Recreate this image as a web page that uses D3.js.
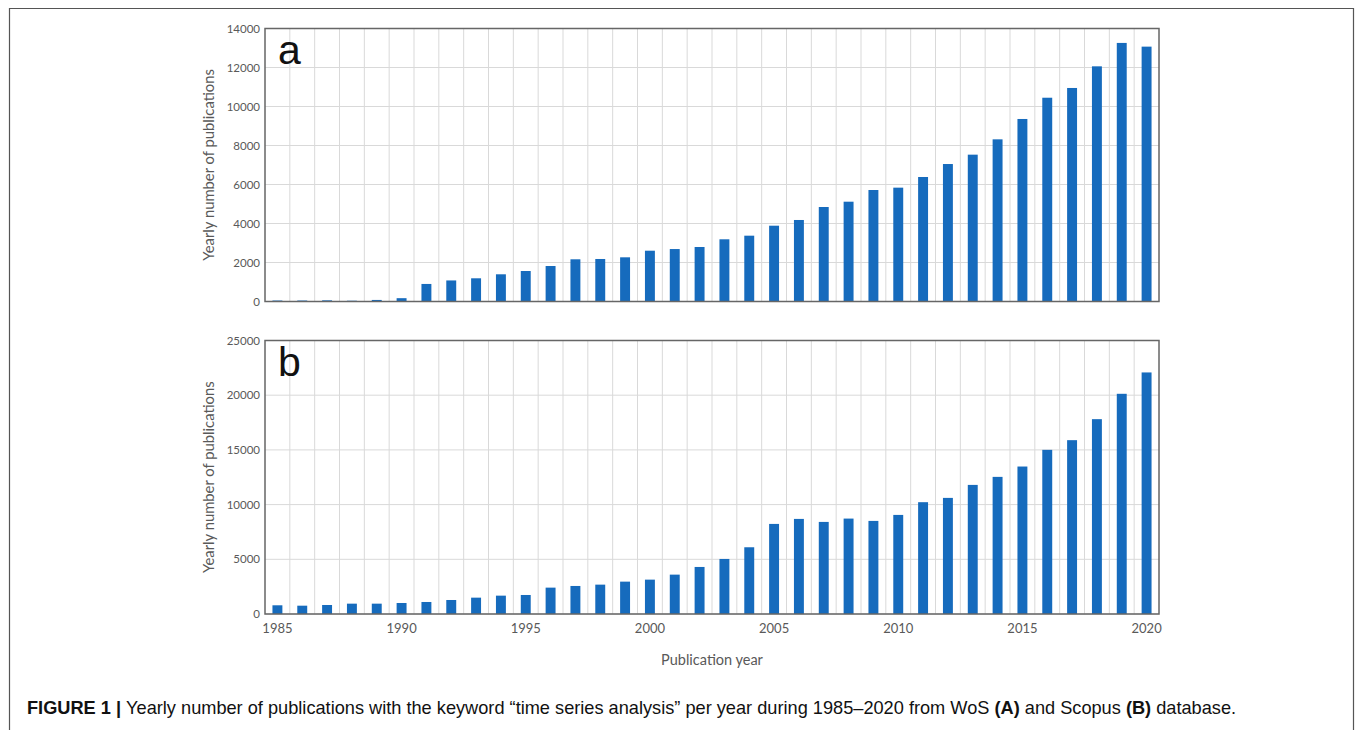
<!DOCTYPE html>
<html>
<head>
<meta charset="utf-8">
<script src="https://cdn.jsdelivr.net/npm/d3@7"></script>
<style>
  html, body { margin: 0; padding: 0; background: #fff; }
  svg { display: block; }
</style>
</head>
<body>
<svg id="chart" width="1355" height="730"></svg>
<script>
const years = d3.range(1985, 2021);
const wosValues = [50, 50, 60, 40, 80, 170, 900, 1080, 1190, 1395, 1564, 1820, 2164, 2180, 2266, 2605, 2690, 2795, 3190, 3375, 3887, 4180, 4846, 5118, 5718, 5838, 6385, 7050, 7530, 8316, 9360, 10450, 10950, 12060, 13260, 13070];
const scopusValues = [796, 760, 823, 945, 945, 1006, 1098, 1280, 1494, 1677, 1738, 2410, 2562, 2684, 2958, 3141, 3599, 4300, 5032, 6100, 8234, 8692, 8417, 8722, 8509, 9057, 10220, 10613, 11800, 12534, 13480, 15004, 15890, 17810, 20128, 22080];
const wosTicks = [0, 2000, 4000, 6000, 8000, 10000, 12000, 14000];
const scopusTicks = [0, 5000, 10000, 15000, 20000, 25000];
const xTickYears = [1985, 1990, 1995, 2000, 2005, 2010, 2015, 2020];

const svg = d3.select("#chart");
const barColor = "#166bbd";
const gridColor = "#d9d9d9";
const axisColor = "#666";
const textColor = "#595959";
const labelFont = "Lato, 'Open Sans', sans-serif";

// Outer frame
svg.append("path")
  .attr("d", "M9.5,730 V8.5 H1353.5 V730")
  .attr("fill", "none").attr("stroke", "#555").attr("stroke-width", 1.2);

const left = 265, right = 1159;
const x = d3.scaleBand().domain(years).range([left, right]).paddingInner(0.6).paddingOuter(0.3);
const xGrid = d3.scaleBand().domain(years).range([left, right]).padding(0);

function panel(values, ticks, top, bottom, letter, showX) {
  const y = d3.scaleLinear().domain([0, ticks[ticks.length - 1]]).range([bottom, top]);
  const g = svg.append("g");

  g.append("g").selectAll("line").data(ticks).join("line")
    .attr("x1", left).attr("x2", right)
    .attr("y1", d => y(d)).attr("y2", d => y(d))
    .attr("stroke", gridColor).attr("stroke-width", 1);

  g.append("g").selectAll("line").data(years.slice(1)).join("line")
    .attr("x1", d => xGrid(d)).attr("x2", d => xGrid(d))
    .attr("y1", top).attr("y2", bottom)
    .attr("stroke", gridColor).attr("stroke-width", 1);

  g.append("g").selectAll("rect").data(values).join("rect")
    .attr("x", (d, i) => x(years[i]))
    .attr("width", x.bandwidth())
    .attr("y", d => y(d))
    .attr("height", d => bottom - y(d))
    .attr("fill", barColor);

  g.append("rect")
    .attr("x", left).attr("y", top).attr("width", right - left).attr("height", bottom - top)
    .attr("fill", "none").attr("stroke", axisColor).attr("stroke-width", 1.5);

  const yAxis = d3.axisLeft(y).tickValues(ticks).tickSize(0).tickPadding(5).tickFormat(d3.format("d"));
  const ya = g.append("g").attr("transform", `translate(${left},0)`).call(yAxis);
  ya.select(".domain").remove();
  ya.selectAll("text").attr("fill", textColor).style("font-family", labelFont).style("font-size", "11.5px");

  g.append("text")
    .attr("transform", `translate(214,${(top + bottom) / 2}) rotate(-90)`)
    .attr("text-anchor", "middle")
    .attr("fill", textColor)
    .style("font-family", labelFont).style("font-size", "14.8px")
    .text("Yearly number of publications");

  g.append("text")
    .attr("x", 278).attr("y", top + 35)
    .attr("fill", "#111")
    .style("font-family", "'Liberation Sans', Arial, sans-serif").style("font-size", "41px")
    .text(letter);

  if (showX) {
    const xa = g.append("g").attr("transform", `translate(0,${bottom})`)
      .call(d3.axisBottom(x).tickValues(xTickYears).tickSize(0).tickPadding(10));
    xa.select(".domain").remove();
    xa.selectAll("text").attr("fill", textColor).style("font-family", labelFont).style("font-size", "13px");
  }
}

panel(wosValues, wosTicks, 28.5, 301.5, "a", false);
panel(scopusValues, scopusTicks, 340.5, 614, "b", true);

svg.append("text")
  .attr("x", (left + right) / 2).attr("y", 665)
  .attr("text-anchor", "middle")
  .attr("fill", textColor)
  .style("font-family", labelFont).style("font-size", "14.5px")
  .text("Publication year");

const cap = svg.append("text")
  .attr("x", 27).attr("y", 714)
  .attr("fill", "#111")
  .style("font-family", "'Liberation Sans', Arial, sans-serif").style("font-size", "18.2px");
cap.append("tspan").attr("font-weight", "bold").text("FIGURE 1 | ");
cap.append("tspan").text("Yearly number of publications with the keyword \u201ctime series analysis\u201d per year during 1985\u20132020 from WoS ");
cap.append("tspan").attr("font-weight", "bold").text("(A)");
cap.append("tspan").text(" and Scopus ");
cap.append("tspan").attr("font-weight", "bold").text("(B)");
cap.append("tspan").text(" database.");
</script>
</body>
</html>
